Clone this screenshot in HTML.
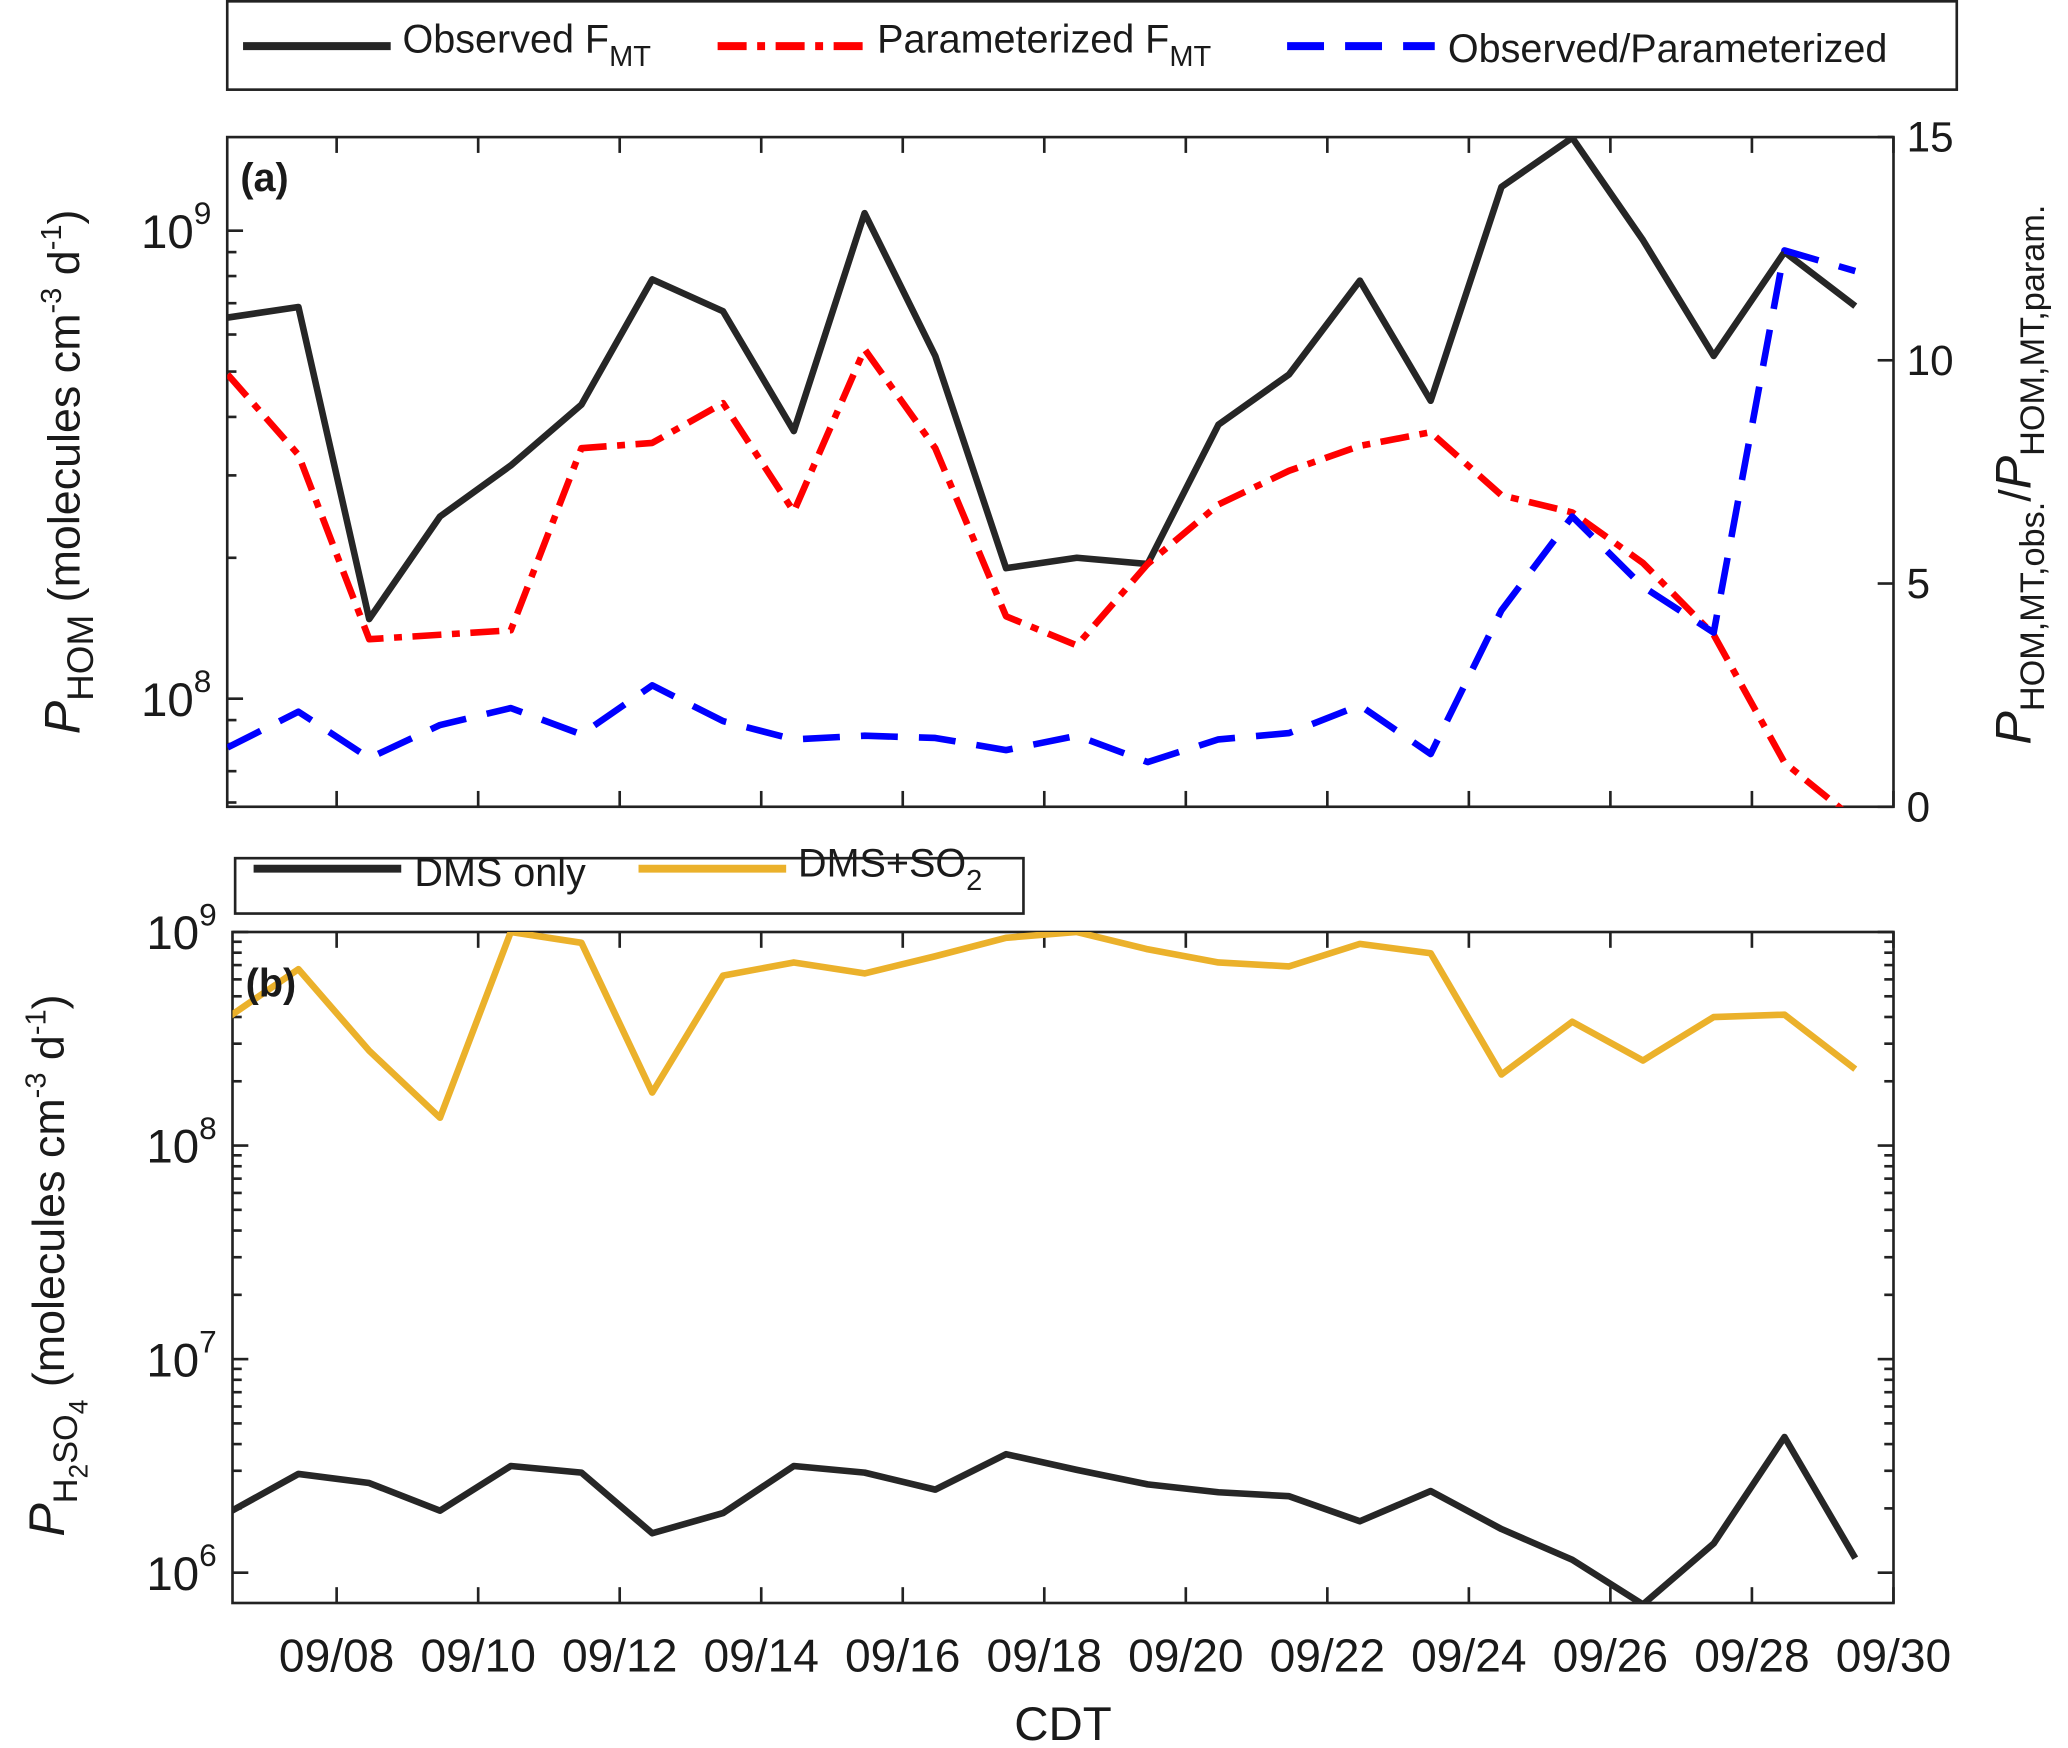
<!DOCTYPE html>
<html><head><meta charset="utf-8"><style>
html,body{margin:0;padding:0;background:#fff}
svg{display:block}
text{font-family:"Liberation Sans",Arial,sans-serif;fill:#1a1a1a}
</style></head><body>
<svg id="chart" width="2068" height="1748" viewBox="0 0 1568 1326" xmlns="http://www.w3.org/2000/svg">
<rect width="1568" height="1326" fill="#fff"/>
<defs>
<clipPath id="clipA"><rect x="172" y="104" width="1264" height="508"/></clipPath>
<clipPath id="clipB"><rect x="176" y="707" width="1260" height="509"/></clipPath>
</defs>
<g id="gA"></g>
<g id="gB"></g>

<g>
<rect x="172" y="1" width="1312" height="67" fill="#fff" stroke="#222" stroke-width="2"/>
<line x1="184" y1="35" x2="296" y2="35" stroke="#262626" stroke-width="6"/>
<text x="305" y="40" font-size="30">Observed F<tspan font-size="22" dy="10">MT</tspan></text>
<line x1="544" y1="35" x2="656" y2="35" stroke="#ff0000" stroke-width="6" stroke-dasharray="22,8,6,8"/>
<text x="665" y="40" font-size="30">Parameterized F<tspan font-size="22" dy="10">MT</tspan></text>
<line x1="976" y1="35" x2="1088" y2="35" stroke="#0000ff" stroke-width="6" stroke-dasharray="28,16"/>
<text x="1098" y="47" font-size="30">Observed/Parameterized</text>
</g>
<g>
<rect x="178" y="651" width="598" height="42" fill="#fff" stroke="#222" stroke-width="2"/>
<line x1="192" y1="659" x2="304" y2="659" stroke="#262626" stroke-width="6"/>
<text x="314" y="672" font-size="30">DMS only</text>
<line x1="484" y1="659" x2="596" y2="659" stroke="#ebb12b" stroke-width="6"/>
<text x="605" y="665" font-size="30">DMS+SO<tspan font-size="22" dy="10">2</tspan></text>
</g>

<text transform="translate(60,358) rotate(-90)" text-anchor="middle" font-size="34"><tspan font-style="italic" font-size="38">P</tspan><tspan font-size="28" dy="10">HOM</tspan><tspan dy="-10"> (molecules cm</tspan><tspan font-size="22" dy="-14">-3</tspan><tspan dy="14"> d</tspan><tspan font-size="22" dy="-14">-1</tspan><tspan dy="14">)</tspan></text>
<text transform="translate(1540,360) rotate(-90)" text-anchor="middle" font-size="34"><tspan font-style="italic" font-size="38">P</tspan><tspan font-size="26" dy="10">HOM,MT,obs.</tspan><tspan dy="-10">/</tspan><tspan font-style="italic" font-size="38">P</tspan><tspan font-size="26" dy="10">HOM,MT,param.</tspan></text>
<text transform="translate(48,960) rotate(-90)" text-anchor="middle" font-size="34"><tspan font-style="italic" font-size="38">P</tspan><tspan font-size="26" dy="10">H</tspan><tspan font-size="20" dy="8">2</tspan><tspan font-size="26" dy="-8">SO</tspan><tspan font-size="20" dy="8">4</tspan><tspan dy="-18"> (molecules cm</tspan><tspan font-size="22" dy="-14">-3</tspan><tspan dy="14"> d</tspan><tspan font-size="22" dy="-14">-1</tspan><tspan dy="14">)</tspan></text>
<text x="806" y="1320" text-anchor="middle" font-size="36">CDT</text>
<text x="182" y="145" font-size="30" font-weight="bold">(a)</text>
<text x="186" y="756" font-size="30" font-weight="bold">(b)</text>
</svg>
<script>
const days = [6.46,7.46,8.46,9.46,10.46,11.46,12.46,13.46,14.46,15.46,16.46,17.46,18.46,19.46,20.46,21.46,22.46,23.46,24.46,25.46,26.46,27.46,28.46,29.46];
const obsFMT = [6.52e8,6.87e8,1.48e8,2.45e8,3.15e8,4.25e8,7.87e8,6.73e8,3.73e8,1.09e9,5.4e8,1.9e8,2.0e8,1.94e8,3.85e8,4.93e8,7.82e8,4.33e8,1.24e9,1.58e9,9.55e8,5.4e8,9.0e8,6.9e8];
const paramFMT = [4.93e8,3.32e8,1.34e8,1.37e8,1.40e8,3.43e8,3.52e8,4.28e8,2.51e8,5.58e8,3.43e8,1.5e8,1.30e8,1.94e8,2.6e8,3.07e8,3.47e8,3.71e8,2.72e8,2.5e8,1.95e8,1.37e8,7.3e7,5.5e7];
const ratio = [1.33,2.13,1.09,1.83,2.21,1.62,2.72,1.92,1.51,1.59,1.54,1.27,1.59,1.0,1.51,1.65,2.27,1.18,4.4,6.5,4.93,3.9,12.46,12.0];
const dmsSO2 = [3.97e8,6.7e8,2.78e8,1.35e8,1e9,8.9e8,1.77e8,6.25e8,7.2e8,6.4e8,7.7e8,9.4e8,1e9,8.3e8,7.2e8,6.9e8,8.8e8,7.96e8,2.15e8,3.8e8,2.5e8,4.0e8,4.1e8,2.28e8];
const dmsOnly = [1.90e6,2.9e6,2.63e6,1.95e6,3.16e6,2.94e6,1.53e6,1.9e6,3.16e6,2.94e6,2.45e6,3.59e6,3.03e6,2.59e6,2.38e6,2.28e6,1.74e6,2.41e6,1.6e6,1.15e6,7.1e5,1.37e6,4.32e6,1.17e6];
const xTickDays = [8,10,12,14,16,18,20,22,24,26,28,30];
const xTickLabels = ['09/08','09/10','09/12','09/14','09/16','09/18','09/20','09/22','09/24','09/26','09/28','09/30'];
const rightTicks = [0,5,10,15];

const NS='http://www.w3.org/2000/svg';
const X = d => 255 + (d-8)*53.68;
const YA = v => 175 - (Math.log10(v)-9)*355;
const YR = v => 612 - v*33.87;
const YB = v => 707 - (Math.log10(v)-9)*162;

function mk(parent, tag, attrs){const e=document.createElementNS(NS,tag);for(const k in attrs)e.setAttribute(k,attrs[k]);parent.appendChild(e);return e;}
const gA=document.getElementById('gA'), gB=document.getElementById('gB');

function drawLine(g,vals,yf,color,dash,name,clip){
  const pts=vals.map((v,i)=>X(days[i]).toFixed(1)+','+yf(v).toFixed(1)).join(' ');
  const p=mk(g,'polyline',{points:pts,fill:'none',stroke:color,'stroke-width':5,'stroke-dasharray':dash,'clip-path':'url(#'+clip+')','stroke-linejoin':'round'});
  
  
}
function axes(g,x0,y0,x1,y1,yf,decades,minExp,maxV,minV,rightMirror){
  mk(g,'rect',{x:x0,y:y0,width:x1-x0,height:y1-y0,fill:'none',stroke:'#222','stroke-width':2});
  xTickDays.forEach((d)=>{
    const x=X(d); if(x<x0||x>x1+0.5) return;
    mk(g,'line',{x1:x,y1:y1,x2:x,y2:y1-12,stroke:'#222','stroke-width':2});
    mk(g,'line',{x1:x,y1:y0,x2:x,y2:y0+12,stroke:'#222','stroke-width':2});
  });
  for(let e=minExp;e<=minExp+decades;e++){
    for(let m=1;m<10;m++){
      const v=m*Math.pow(10,e); if(v>maxV||v<minV) continue;
      const y=yf(v), len=m===1?12:7;
      mk(g,'line',{x1:x0,y1:y,x2:x0+len,y2:y,stroke:'#222','stroke-width':2});
      if(rightMirror) mk(g,'line',{x1:x1,y1:y,x2:x1-len,y2:y,stroke:'#222','stroke-width':2});
      if(m===1){
        const t=mk(g,'text',{x:x0-12,y:y+13,'text-anchor':'end','font-size':36});
        
        
        t.textContent='10';
        const s=mk(t,'tspan',{dy:-18,'font-size':24}); s.textContent=String(e);
      }
    }
  }
}
axes(gA,172,104,1436,612,YA,2,7,1.58e9,5.9e7,false);
rightTicks.forEach(v=>{
  const y=YR(v);
  mk(gA,'line',{x1:1436,y1:y,x2:1424,y2:y,stroke:'#222','stroke-width':2});
  const t=mk(gA,'text',{x:1446,y:y+11,'font-size':32});
  
  
  t.textContent=String(v);
});
axes(gB,176,707,1436,1216,YB,3,6,1e9,7.2e5,true);
xTickDays.forEach((d,i)=>{
  const t=mk(gB,'text',{x:X(d),y:1268,'text-anchor':'middle','font-size':35});
  
  
  t.textContent=xTickLabels[i];
});
drawLine(gA,obsFMT,YA,'#262626','none','observed-fmt-line','clipA');
drawLine(gA,paramFMT,YA,'#ff0000','22,8,6,8','parameterized-fmt-line','clipA');
drawLine(gA,ratio,YR,'#0000ff','28,16','ratio-line','clipA');
drawLine(gB,dmsSO2,YB,'#ebb12b','none','dms-so2-line','clipB');
drawLine(gB,dmsOnly,YB,'#262626','none','dms-only-line','clipB');
</script>
</body></html>
